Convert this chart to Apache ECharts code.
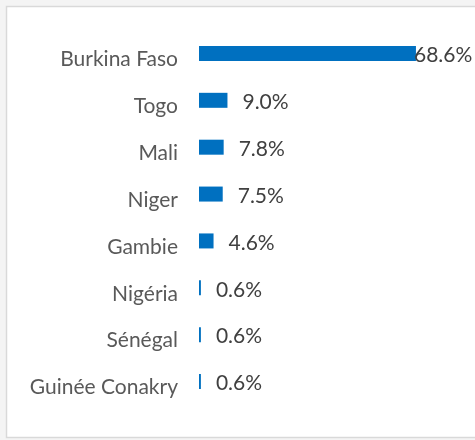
<!DOCTYPE html>
<html><head><meta charset="utf-8">
<script src="https://cdn.jsdelivr.net/npm/echarts@6/dist/echarts.min.js"></script>
<style>html,body{margin:0;padding:0;background:#f4f4f4}#c{width:475px;height:440px}</style>
</head><body><div id="c"></div>
<script>
const categories = ["Burkina Faso","Togo","Mali","Niger","Gambie","Nigéria","Sénégal","Guinée Conakry"];
const values = [68.6, 9.0, 7.8, 7.5, 4.6, 0.6, 0.6, 0.6];

const chart = echarts.init(document.getElementById('c'), null, {renderer:'canvas'});
chart.setOption({
  backgroundColor: '#f4f4f4',
  animation: false,
  graphic: [{type:'rect', shape:{x:6.5,y:6.5,width:480,height:431}, style:{fill:'#ffffff', stroke:'#d9d9d9', lineWidth:1.5}, z:-10}],
  grid: {left:199, top:30, width:253, height:375, containLabel:false},
  xAxis: {type:'value', min:0, max:80, show:false},
  yAxis: {type:'category', data:categories, inverse:true,
    axisLine:{show:false}, axisTick:{show:false}, splitLine:{show:false},
    axisLabel:{margin:21, formatter: v => '{a|' + v + '}',
      rich:{a:{color:'#595959', fontFamily:'Lato', fontSize:21, padding:[12,0,0,0]}}}},
  series: [{type:'bar', barWidth:15, itemStyle:{color:'#0070c0'},
    data: values.map((v,i)=> i===0 ? {value:v, label:{offset:[-17,2]}} : v),
    label:{show:true, position:'right', distance:15, offset:[0,2], color:'#404040', fontFamily:'Lato', fontSize:21,
      formatter: p => p.value.toFixed(1)+'%'}}]
});
</script></body></html>
